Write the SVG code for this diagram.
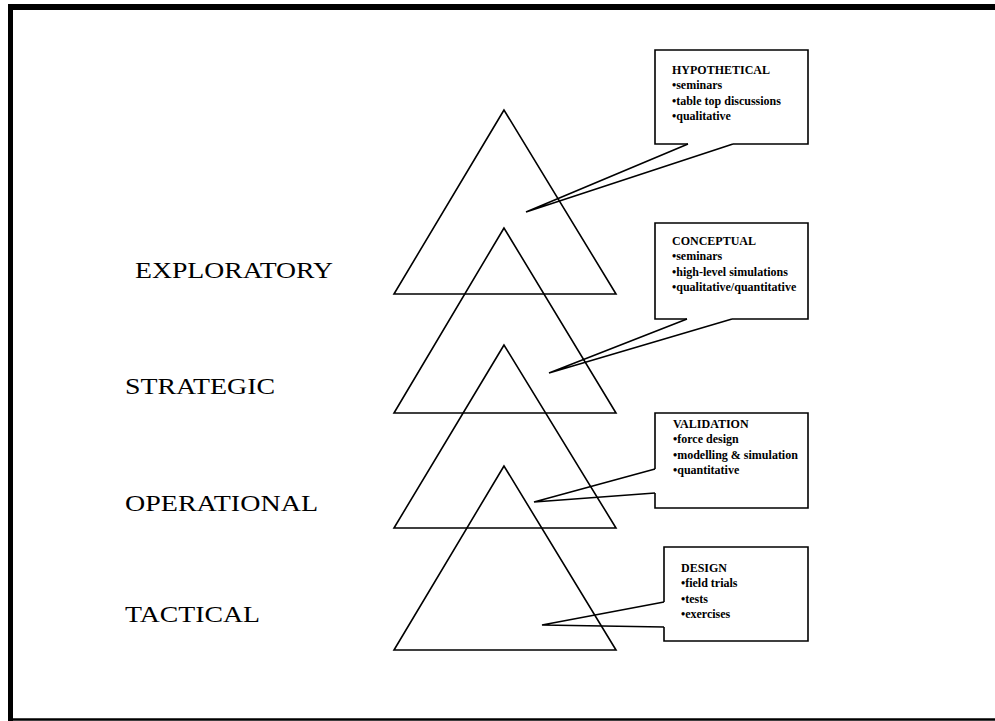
<svg xmlns="http://www.w3.org/2000/svg" width="995" height="721" viewBox="0 0 995 721">
<style>
.tri{fill:none;stroke:#000;stroke-width:1.6;stroke-linejoin:miter}
.call{fill:none;stroke:#000;stroke-width:1.6;stroke-linejoin:miter}
.lbl{font-family:"Liberation Serif","Times New Roman",serif;font-size:24px;fill:#000}
.bt{font-family:"Liberation Serif","Times New Roman",serif;font-size:12px;font-weight:bold;fill:#000}
</style>
<rect width="995" height="721" fill="#fff"/>
<g id="frame">
<line x1="8" y1="7" x2="995" y2="7" stroke="#000" stroke-width="6"/>
<line x1="10.5" y1="4" x2="10.5" y2="721" stroke="#000" stroke-width="5"/>
<line x1="8" y1="719.5" x2="995" y2="719.5" stroke="#000" stroke-width="2.5"/>
</g>
<g id="labels">
<text class="lbl" x="135" y="278" textLength="198" lengthAdjust="spacingAndGlyphs">EXPLORATORY</text>
<text class="lbl" x="125" y="394" textLength="150" lengthAdjust="spacingAndGlyphs">STRATEGIC</text>
<text class="lbl" x="125" y="511" textLength="193" lengthAdjust="spacingAndGlyphs">OPERATIONAL</text>
<text class="lbl" x="125" y="622" textLength="135" lengthAdjust="spacingAndGlyphs">TACTICAL</text>
</g>
<g id="triangles">
<polygon id="tri-exploratory" class="tri" points="504,110 394,294 616,294"/>
<polygon id="tri-strategic" class="tri" points="504,228 394,413 616,413"/>
<polygon id="tri-operational" class="tri" points="504,345 394,528 616,528"/>
<polygon id="tri-tactical" class="tri" points="504,466 394,650 616,650"/>
</g>
<g id="connectors">
<path class="call" d="M688,144 L526,212 L733,144"/>
<path class="call" d="M687,319 L549,373 L732,319"/>
<path class="call" d="M655,469 L534,502 L655,493"/>
<path class="call" d="M664,602 L542,625 L664,627"/>
</g>
<g id="hypothetical">
<path class="call" d="M688,144 H655 V50 H808 V144 H733"/>
<text class="bt" x="672" y="74">HYPOTHETICAL</text>
<text class="bt" x="672" y="89">•seminars</text>
<text class="bt" x="672" y="105">•table top discussions</text>
<text class="bt" x="672" y="120">•qualitative</text>
</g>
<g id="conceptual">
<path class="call" d="M687,319 H655 V223 H808 V319 H732"/>
<text class="bt" x="672" y="245">CONCEPTUAL</text>
<text class="bt" x="672" y="260">•seminars</text>
<text class="bt" x="672" y="276">•high-level simulations</text>
<text class="bt" x="672" y="291">•qualitative/quantitative</text>
</g>
<g id="validation">
<path class="call" d="M655,469 V413 H808 V508 H655 V493"/>
<text class="bt" x="673" y="428">VALIDATION</text>
<text class="bt" x="673" y="443">•force design</text>
<text class="bt" x="673" y="459">•modelling &amp; simulation</text>
<text class="bt" x="673" y="474">•quantitative</text>
</g>
<g id="design">
<path class="call" d="M664,602 V547 H808 V641 H664 V627"/>
<text class="bt" x="681" y="572">DESIGN</text>
<text class="bt" x="681" y="587">•field trials</text>
<text class="bt" x="681" y="603">•tests</text>
<text class="bt" x="681" y="618">•exercises</text>
</g>
</svg>
